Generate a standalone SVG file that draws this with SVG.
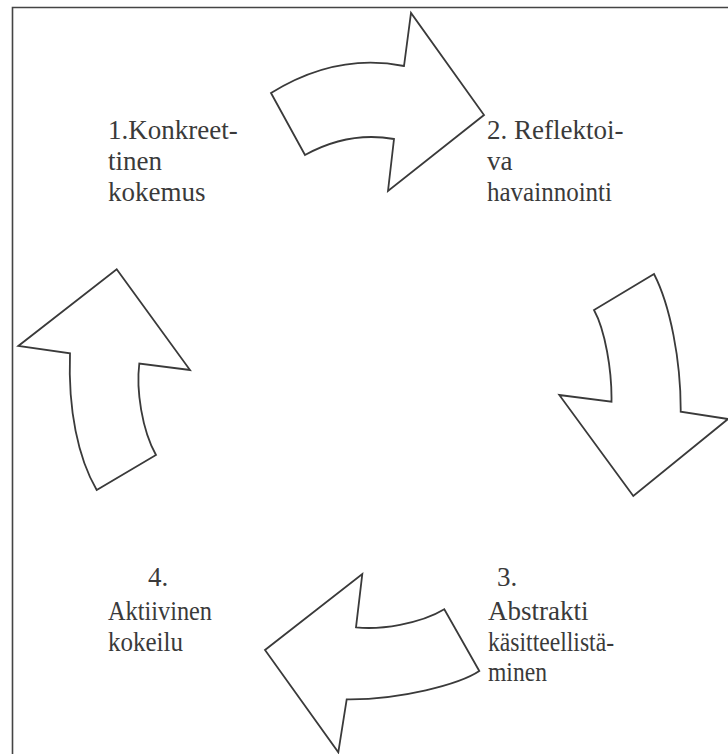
<svg xmlns="http://www.w3.org/2000/svg" width="728" height="754" viewBox="0 0 728 754">
<style>
.frame{fill:none;stroke:#444;stroke-width:1.6}
.arrow{fill:#fff;stroke:#3a3a3a;stroke-width:1.8;stroke-linejoin:miter}
.lbl{font-family:"Liberation Serif","DejaVu Serif","Times New Roman",serif;font-size:27px;fill:#3a3a3a}
</style>
<rect width="728" height="754" fill="#fff"/>
<path class="frame" d="M12.5,754 V7.5 H728"/>
<g id="connectors">
<path class="arrow" d="M271,93 Q336.5,52.5 404,66 L411,13 L484,115 L388,191 L394,139 Q348.5,131 305,155 Z"/>
<path class="arrow" d="M594,310 C605,330 612,370 611.5,401.7 L559.3,395 L633.3,496 L728,419 L680.7,411.7 C681,360 670,305 654,274 Z"/>
<path class="arrow" d="M479.3,671 L444.3,609.3 C420,624 380,630 356,627.3 L362.3,574 L265,650 L338.3,752.3 L346.7,699.3 C400,700 460,684 479.3,671 Z"/>
<path class="arrow" d="M96.7,490 C78,458 68,410 70,353.3 L18.3,346 L116.7,269.3 L190,370 L139.3,363.5 C136,390 142,430 156,455 Z"/>
</g>
<g id="node1">
<text class="lbl" x="108" y="139">1.Konkreet-</text>
<text class="lbl" x="108" y="170">tinen</text>
<text class="lbl" x="108" y="201">kokemus</text>
</g>
<g id="node2">
<text class="lbl" x="487" y="139">2. Reflektoi-</text>
<text class="lbl" x="487" y="170">va</text>
<text class="lbl" x="487" y="201" textLength="125" lengthAdjust="spacingAndGlyphs">havainnointi</text>
</g>
<g id="node3">
<text class="lbl" x="497" y="586">3.</text>
<text class="lbl" x="488" y="620">Abstrakti</text>
<text class="lbl" x="488" y="651" textLength="126" lengthAdjust="spacingAndGlyphs">käsitteellistä-</text>
<text class="lbl" x="488" y="681" textLength="59" lengthAdjust="spacingAndGlyphs">minen</text>
</g>
<g id="node4">
<text class="lbl" x="148" y="586">4.</text>
<text class="lbl" x="108" y="620" textLength="104" lengthAdjust="spacingAndGlyphs">Aktiivinen</text>
<text class="lbl" x="108" y="651" textLength="75" lengthAdjust="spacingAndGlyphs">kokeilu</text>
</g>
</svg>
